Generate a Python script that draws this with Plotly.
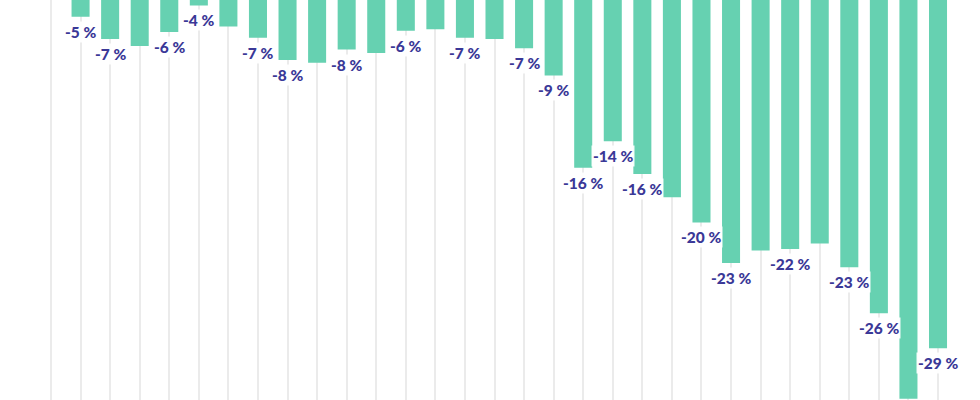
import plotly.graph_objects as go

# Category index (0 has no visible bar)
categories = list(range(31))
values = [None, -5.2, -6.8, -7.3, -6.3, -4.4, -5.9, -6.7, -8.3, -8.5, -7.55,
          -7.8, -6.2, -6.1, -6.7, -6.8, -7.45, -9.4, -16.0, -14.1, -16.45,
          -18.1, -19.9, -22.8, -21.9, -21.8, -21.4, -23.1, -26.4, -32.5, -28.9]
labels = [None, "-5 %", "-7 %", None, "-6 %", "-4 %", None, "-7 %", "-8 %", None, "-8 %",
          None, "-6 %", None, "-7 %", None, "-7 %", "-9 %", "-16 %", "-14 %", "-16 %",
          None, "-20 %", "-23 %", None, "-22 %", None, "-23 %", "-26 %", None, "-29 %"]

BAR = "#66d1b1"
LABEL = "#3a3897"

fig = go.Figure()
fig.add_trace(go.Bar(x=categories, y=values, marker=dict(color=BAR, line=dict(width=0)),
                     width=0.61, hoverinfo="skip"))

for c, v, t in zip(categories, values, labels):
    if t is None or v is None:
        continue
    fig.add_annotation(x=c, y=v, text=t, showarrow=False,
                       xanchor="center", yanchor="top", yshift=-4,
                       font=dict(family="Lato", size=15.5, color=LABEL, weight=900),
                       bgcolor="rgba(255,255,255,0.92)", borderpad=1)

fig.update_layout(
    width=980, height=400,
    margin=dict(l=0, r=0, t=0, b=0),
    paper_bgcolor="white", plot_bgcolor="white",
    showlegend=False,
    xaxis=dict(range=[-1.725, 31.42], tickvals=categories, showticklabels=False,
               showgrid=True, gridcolor="#ebebeb", gridwidth=1.5, zeroline=False,
               showline=False, ticks=""),
    yaxis=dict(range=[-32.59, -4.01], showgrid=False, zeroline=False,
               showticklabels=False, showline=False, ticks=""),
)

fig.write_html("out.html")
